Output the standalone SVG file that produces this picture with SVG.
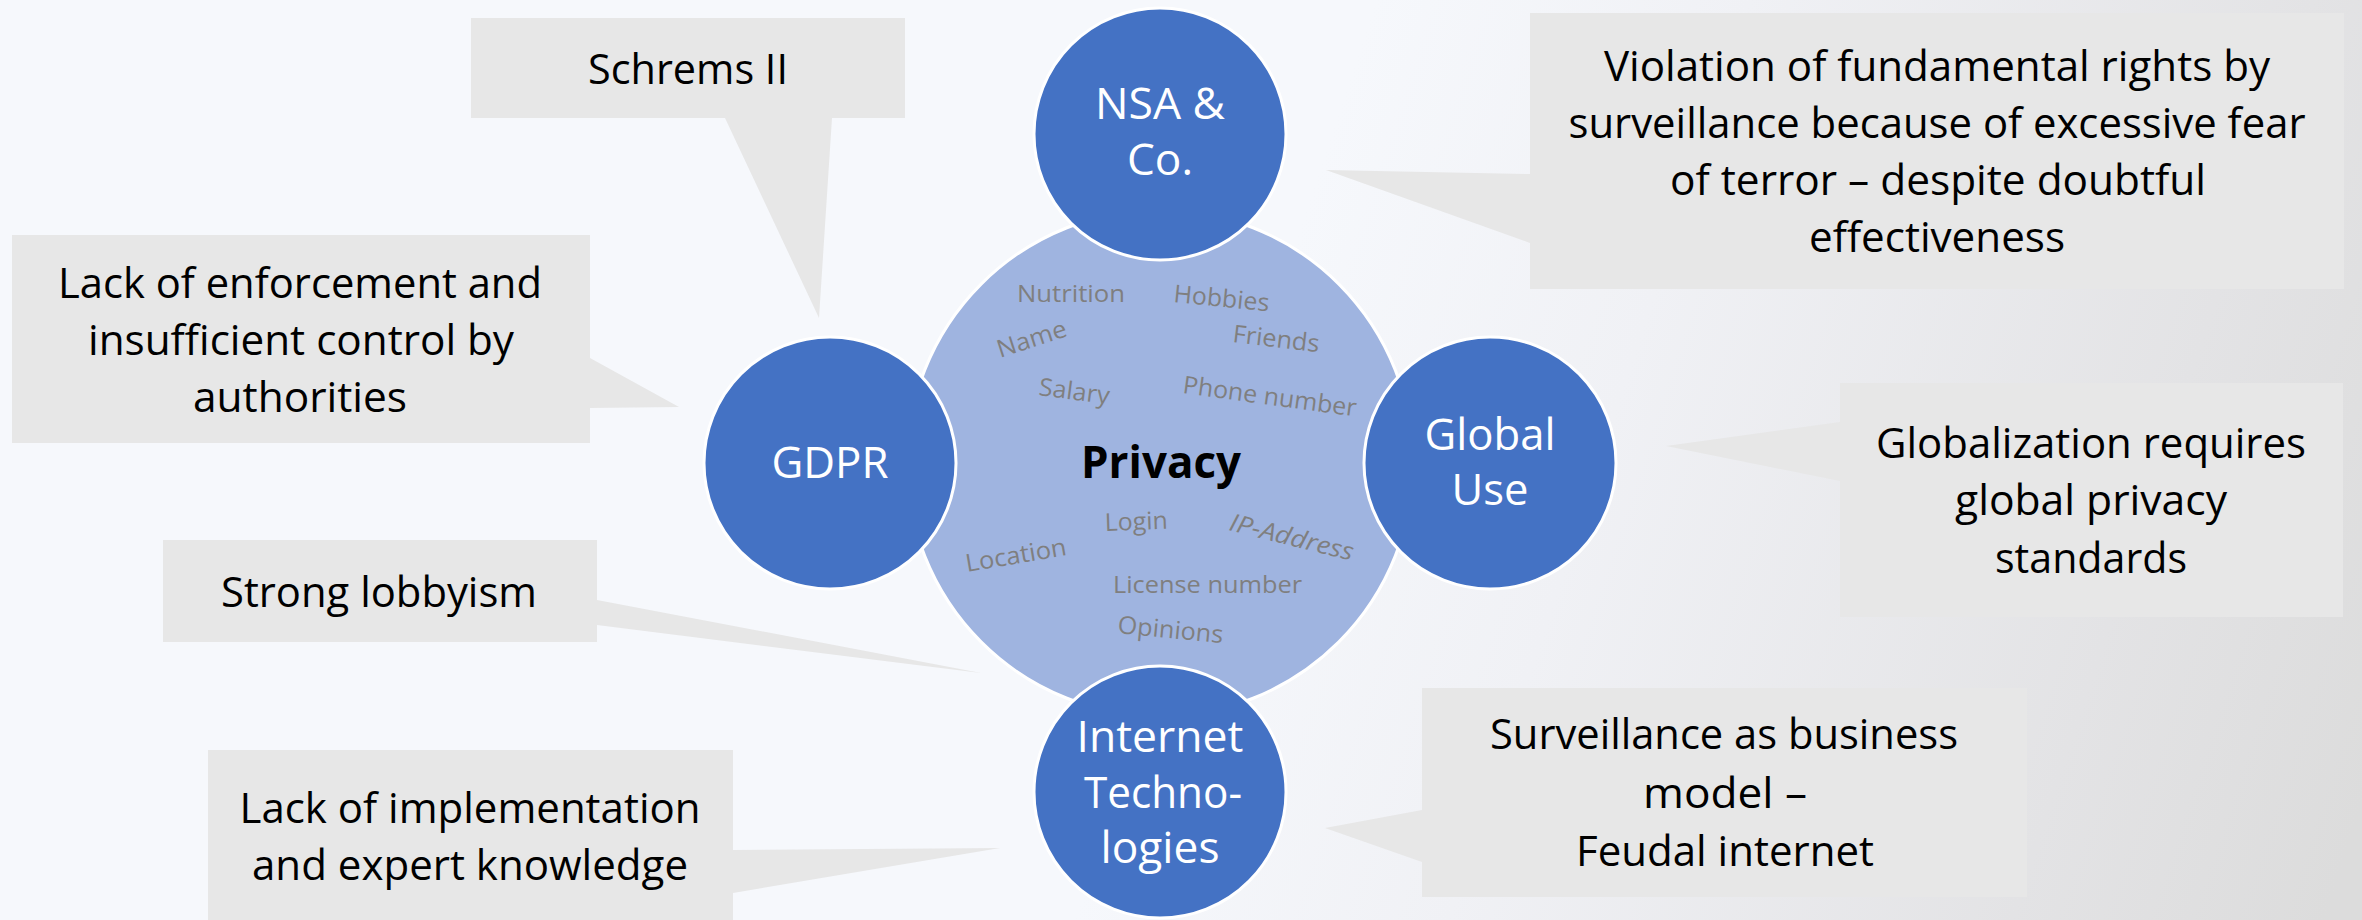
<svg xmlns="http://www.w3.org/2000/svg" width="2362" height="920" viewBox="0 0 2362 920">
  <defs>
    <linearGradient id="bg" gradientUnits="userSpaceOnUse" x1="1250" y1="380" x2="2380" y2="750">
      <stop offset="0" stop-color="#F6F8FC"/>
      <stop offset="0.3" stop-color="#F0F1F5"/>
      <stop offset="0.75" stop-color="#E3E3E5"/>
      <stop offset="1" stop-color="#DCDCDC"/>
    </linearGradient>
    <style>
      .callout { fill: #E7E7E7; }
      .hub { fill: #4472C4; stroke: #FFFFFF; stroke-width: 3; }
      .core { fill: #9FB4E0; stroke: #FFFFFF; stroke-width: 3; }
      .t { font-family: "Open Sans", "Liberation Sans", sans-serif; font-size: 42px; fill: #000000; text-anchor: middle; }
      .hubtext { font-family: "Open Sans", "Liberation Sans", sans-serif; font-size: 43px; fill: #FFFFFF; text-anchor: middle; }
      .title { font-family: "Open Sans", "Liberation Sans", sans-serif; font-size: 44px; font-weight: bold; fill: #000000; text-anchor: middle; }
      .word { font-family: "Open Sans", "Liberation Sans", sans-serif; font-size: 24.5px; fill: #7F7F7F; }
    </style>
  </defs>

  <!-- background -->
  <rect x="0" y="0" width="2362" height="920" fill="url(#bg)"/>

  <!-- speech-bubble callouts -->
  <g id="callout-schrems">
    <path class="callout" d="M471,18 H905 V118 H832 L819,318 L725,118 H471 Z"/>
    <text class="t" x="688" y="84" textLength="200" lengthAdjust="spacingAndGlyphs">Schrems II</text>
  </g>

  <g id="callout-enforcement">
    <path class="callout" d="M12,235 H590 V358 L679,407 L590,408 V443 H12 Z"/>
    <text class="t" x="300" y="298" textLength="484" lengthAdjust="spacingAndGlyphs">Lack of enforcement and</text>
    <text class="t" x="301" y="355" textLength="426" lengthAdjust="spacingAndGlyphs">insufficient control by</text>
    <text class="t" x="300" y="412" textLength="214" lengthAdjust="spacingAndGlyphs">authorities</text>
  </g>

  <g id="callout-lobbyism">
    <path class="callout" d="M163,540 H597 V600 L981,673 L597,625 V642 H163 Z"/>
    <text class="t" x="379" y="607" textLength="316" lengthAdjust="spacingAndGlyphs">Strong lobbyism</text>
  </g>

  <g id="callout-implementation">
    <path class="callout" d="M208,750 H733 V850 L1000,848 L733,893 V925 H208 Z"/>
    <text class="t" x="470" y="823" textLength="461" lengthAdjust="spacingAndGlyphs">Lack of implementation</text>
    <text class="t" x="470" y="880" textLength="436" lengthAdjust="spacingAndGlyphs">and expert knowledge</text>
  </g>

  <g id="callout-surveillance-rights">
    <path class="callout" d="M1530,13 H2344 V289 H1530 V243 L1326,170 L1530,174 Z"/>
    <text class="t" x="1937" y="81" textLength="666" lengthAdjust="spacingAndGlyphs">Violation of fundamental rights by</text>
    <text class="t" x="1937" y="138" textLength="737" lengthAdjust="spacingAndGlyphs">surveillance because of excessive fear</text>
    <text class="t" x="1938" y="195" textLength="536" lengthAdjust="spacingAndGlyphs">of terror – despite doubtful</text>
    <text class="t" x="1937" y="252" textLength="256" lengthAdjust="spacingAndGlyphs">effectiveness</text>
  </g>

  <g id="callout-globalization">
    <path class="callout" d="M1840,383 H2343 V617 H1840 V481 L1666,446 L1840,422 Z"/>
    <text class="t" x="2091" y="458" textLength="430" lengthAdjust="spacingAndGlyphs">Globalization requires</text>
    <text class="t" x="2091" y="515" textLength="272" lengthAdjust="spacingAndGlyphs">global privacy</text>
    <text class="t" x="2091" y="573" textLength="192" lengthAdjust="spacingAndGlyphs">standards</text>
  </g>

  <g id="callout-business-model">
    <path class="callout" d="M1422,688 H2027 V897 H1422 V862 L1325,828 L1422,810 Z"/>
    <text class="t" x="1724" y="749" textLength="468" lengthAdjust="spacingAndGlyphs">Surveillance as business</text>
    <text class="t" x="1725" y="808" textLength="164" lengthAdjust="spacingAndGlyphs">model –</text>
    <text class="t" x="1725" y="866" textLength="298" lengthAdjust="spacingAndGlyphs">Feudal internet</text>
  </g>

  <!-- central privacy circle with personal data terms -->
  <g id="privacy">
    <circle class="core" cx="1160" cy="463" r="253"/>
    <g class="word">
      <text x="1017" y="302" textLength="108" lengthAdjust="spacingAndGlyphs">Nutrition</text>
      <text x="1173" y="302" textLength="96" lengthAdjust="spacingAndGlyphs" transform="rotate(5.6 1173 302)">Hobbies</text>
      <text x="1000" y="358" textLength="72" lengthAdjust="spacingAndGlyphs" transform="rotate(-18 1000 358)">Name</text>
      <text x="1232" y="342" textLength="87" lengthAdjust="spacingAndGlyphs" transform="rotate(6.8 1232 342)">Friends</text>
      <text x="1038" y="395" textLength="71" lengthAdjust="spacingAndGlyphs" transform="rotate(7.5 1038 395)">Salary</text>
      <text x="1182" y="393" textLength="175" lengthAdjust="spacingAndGlyphs" transform="rotate(7.7 1182 393)">Phone number</text>
      <text x="1105" y="531" textLength="63" lengthAdjust="spacingAndGlyphs" transform="rotate(-2 1105 531)">Login</text>
      <text x="1228" y="530" textLength="127" lengthAdjust="spacingAndGlyphs" font-style="italic" transform="rotate(14 1228 530)">IP-Address</text>
      <text x="967" y="572" textLength="102" lengthAdjust="spacingAndGlyphs" transform="rotate(-9.6 967 572)">Location</text>
      <text x="1113" y="593" textLength="189" lengthAdjust="spacingAndGlyphs">License number</text>
      <text x="1117" y="633" textLength="106" lengthAdjust="spacingAndGlyphs" transform="rotate(5.5 1117 633)">Opinions</text>
    </g>
    <text class="title" x="1161" y="478" textLength="160" lengthAdjust="spacingAndGlyphs">Privacy</text>
  </g>

  <!-- surrounding topic circles -->
  <g id="nsa">
    <circle class="hub" cx="1160" cy="134" r="126"/>
    <text class="hubtext" x="1160" y="119" textLength="130" lengthAdjust="spacingAndGlyphs">NSA &amp;</text>
    <text class="hubtext" x="1160" y="175" textLength="66" lengthAdjust="spacingAndGlyphs">Co.</text>
  </g>

  <g id="gdpr">
    <circle class="hub" cx="830" cy="463" r="126"/>
    <text class="hubtext" x="830" y="478" textLength="117" lengthAdjust="spacingAndGlyphs">GDPR</text>
  </g>

  <g id="global-use">
    <circle class="hub" cx="1490" cy="463" r="126"/>
    <text class="hubtext" x="1490" y="450" textLength="131" lengthAdjust="spacingAndGlyphs">Global</text>
    <text class="hubtext" x="1490" y="505" textLength="77" lengthAdjust="spacingAndGlyphs">Use</text>
  </g>

  <g id="internet-technologies">
    <circle class="hub" cx="1160" cy="792" r="126"/>
    <text class="hubtext" x="1160" y="752" textLength="167" lengthAdjust="spacingAndGlyphs">Internet</text>
    <text class="hubtext" x="1163" y="808" textLength="158" lengthAdjust="spacingAndGlyphs">Techno-</text>
    <text class="hubtext" x="1160" y="863" textLength="119" lengthAdjust="spacingAndGlyphs">logies</text>
  </g>
</svg>
